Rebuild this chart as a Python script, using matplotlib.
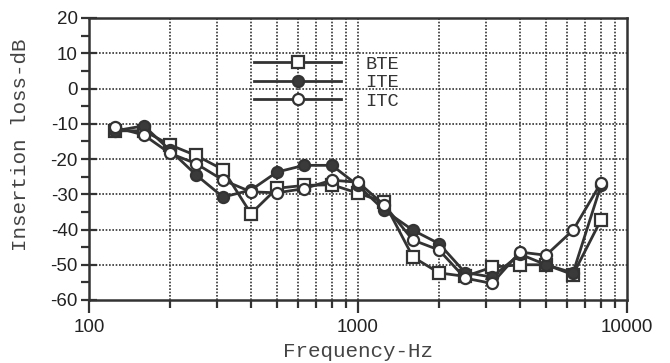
import numpy as np
import matplotlib.pyplot as plt
from matplotlib.ticker import FixedLocator, NullFormatter


# one-third octave centre frequencies, Hz
freqs = [125, 160, 200, 250, 315, 400, 500, 630, 800, 1000,
         1250, 1600, 2000, 2500, 3150, 4000, 5000, 6300, 8000]

# insertion loss, dB
bte = [-12, -12, -16, -19, -23, -35.5, -28.3, -27.5, -27.3, -29.7,
       -32.2, -47.8, -52.3, -53.3, -50.7, -50, -50, -52.8, -37.3]
ite = [-12, -10.6, -17.5, -24.5, -30.8, -28.8, -23.7, -21.8, -21.8, -27.5,
       -34.5, -40.2, -44, -52.2, -53.5, -47, -50, -52.3, -27.5]
itc = [-11, -13.2, -18.4, -21.3, -26, -29.3, -29.6, -28.4, -26, -26.6,
       -33, -43, -45.8, -53.8, -55.3, -46.4, -47.3, -40.2, -26.8]

labels = ["BTE", "ITE", "ITC"]

ink = "#333333"
mono = "Liberation Mono"
sans = "Liberation Sans"

plt.rcParams["axes.unicode_minus"] = False

fig = plt.figure(figsize=(6.7, 3.63), dpi=100)
ax = fig.add_axes([89 / 670, 63 / 363, 538 / 670, 282 / 363])

ax.set_xscale("log")
ax.set_xlim(100, 10000)
ax.set_ylim(-60, 20)

# dotted grid on every major and minor frequency, every 10 dB
minor_x = [m * d for d in (100, 1000) for m in range(2, 10)]
for f in minor_x + [1000]:
    ax.axvline(f, color=ink, lw=1.2, ls=(0, (1, 1)), zorder=1)
for v in range(-50, 20, 10):
    ax.axhline(v, color=ink, lw=1.2, ls=(0, (1, 1)), zorder=1)

mk = dict(ms=8, mew=1.6, lw=2, color=ink, mec=ink, zorder=3)
l1, = ax.plot(freqs, bte, marker="s", mfc="white", label=labels[0], **mk)
l2, = ax.plot(freqs, ite, marker="o", mfc="#3a3a3a", label=labels[1], **mk)
l3, = ax.plot(freqs, itc, marker="o", mfc="white", label=labels[2], **mk)

ax.xaxis.set_major_locator(FixedLocator([100, 1000, 10000]))
ax.xaxis.set_minor_locator(FixedLocator(minor_x))
ax.xaxis.set_minor_formatter(NullFormatter())
ax.set_xticklabels(["100", "1000", "10000"])
ax.set_yticks(range(-60, 21, 10))
ax.set_yticks(range(-55, 20, 10), minor=True)

ax.tick_params(axis="both", which="both", colors=ink, width=1.6)
ax.tick_params(axis="x", which="major", direction="out", length=9, pad=5)
ax.tick_params(axis="x", which="minor", direction="out", length=6)
ax.tick_params(axis="y", which="major", direction="inout", length=12, pad=2)
ax.tick_params(axis="y", which="minor", direction="out", length=6)
for lab in ax.get_xticklabels() + ax.get_yticklabels():
    lab.set_fontfamily(sans)
    lab.set_fontsize(13.5)
    lab.set_color("#222222")

for s in ax.spines.values():
    s.set_color(ink)
    s.set_linewidth(1.8)

ax.set_xlabel("Frequency-Hz", fontfamily=mono, fontsize=15, color="#444444",
              labelpad=4)
ax.set_ylabel("Insertion loss-dB", fontfamily=mono, fontsize=15, color="#444444")
ax.yaxis.set_label_coords(-0.11, 0.55)

leg = ax.legend(handles=[l1, l2, l3], loc="upper left",
                bbox_to_anchor=(0.29, 0.9), frameon=False,
                prop={"family": mono, "size": 13.5}, handlelength=4.6,
                handletextpad=1.3, labelspacing=0.08, borderpad=0)
for t in leg.get_texts():
    t.set_color("#333333")

fig.savefig("out.png", dpi=100)
